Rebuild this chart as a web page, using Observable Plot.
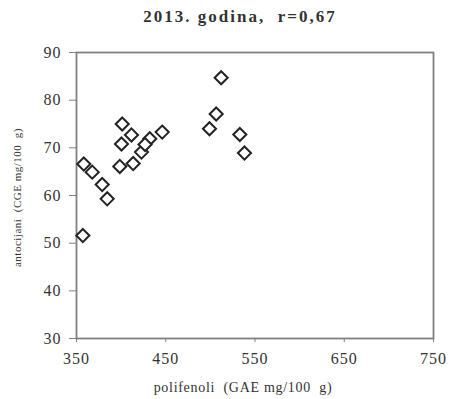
<!DOCTYPE html>
<html>
<head>
<meta charset="utf-8">
<script src="https://cdn.jsdelivr.net/npm/d3@7"></script>
<script src="https://cdn.jsdelivr.net/npm/@observablehq/plot@0.6"></script>
<style>
  body { margin: 0; background: #fff; width: 450px; height: 399px; overflow: hidden; position: relative; }
  #title { position: absolute; left: 0; top: 0; width: 480px; height: 34px; line-height: 34px; text-align: center;
           font-family: "Liberation Serif", "Times New Roman", serif; font-weight: bold; font-size: 17px;
           letter-spacing: 2px; color: #333; white-space: pre; }
  #chart { position: absolute; left: 0; top: 38px; }
  svg { display: block; }
  svg [aria-label="x-axis tick label"] text, svg [aria-label="y-axis tick label"] text { letter-spacing: 1px; }
  svg text.xt { letter-spacing: 0.7px; white-space: pre; }
  svg text.yt { letter-spacing: 0.5px; white-space: pre; }
</style>
</head>
<body>
<div id="title">2013. godina,  r=0,67</div>
<div id="chart"></div>
<script>
const polifenoli = [401.2, 411.6, 400.4, 358.2, 367.6, 378.8, 384.4, 398.5, 413.5, 422.8, 432.1, 446.0, 426.8, 512.1, 506.5, 499.0, 533.0, 538.2, 357.1];
const antocijani = [75.0, 72.7, 70.8, 66.6, 64.9, 62.3, 59.3, 66.1, 66.7, 69.1, 71.9, 73.3, 70.7, 84.7, 77.1, 74.0, 72.8, 68.9, 51.6];
const xTicks = [350, 450, 550, 650, 750];
const yTicks = [30, 40, 50, 60, 70, 80, 90];
const xLabel = "polifenoli  (GAE mg/100  g)";
const yLabel = "antocijani  (CGE mg/100  g)";

const data = polifenoli.map((x, i) => ({x, y: antocijani[i]}));
const font = '"Liberation Serif", "Times New Roman", serif';

const chart = Plot.plot({
  width: 450,
  height: 361,
  marginTop: 14,
  marginBottom: 61,
  marginLeft: 76,
  marginRight: 17,
  style: {fontFamily: font, fontSize: "16px", color: "#333", background: "#fff"},
  x: {domain: [350, 750]},
  y: {domain: [30, 90]},
  marks: [
    Plot.frame({stroke: "#808080", strokeWidth: 1.8}),
    Plot.axisX({ticks: xTicks, tickSize: 4, tickPadding: 10, tickFormat: d => String(d), label: null, stroke: "#808080", fontSize: 16, fill: "#333"}),
    Plot.axisY({ticks: yTicks, tickSize: 7, tickPadding: 8, tickFormat: d => String(d), label: null, stroke: "#808080", fontSize: 16, fill: "#333"}),
    Plot.text([xLabel], {frameAnchor: "bottom", textAnchor: "middle", dx: -12, dy: 53, text: d => d, fontSize: 14, fill: "#333"}),
    Plot.text([yLabel], {frameAnchor: "left", textAnchor: "middle", dx: -59, dy: 2, rotate: -90, text: d => d, fontSize: 11, fill: "#333"}),
    Plot.dot(data, {x: "x", y: "y", symbol: "diamond2", r: 5.9, stroke: "#222", strokeWidth: 2, fill: "white"})
  ]
});
document.getElementById("chart").appendChild(chart);
const texts = chart.querySelectorAll('g[aria-label="text"] text');
texts.forEach(t => {
  if (t.textContent === xLabel) t.classList.add("xt");
  if (t.textContent === yLabel) t.classList.add("yt");
});
</script>
</body>
</html>
